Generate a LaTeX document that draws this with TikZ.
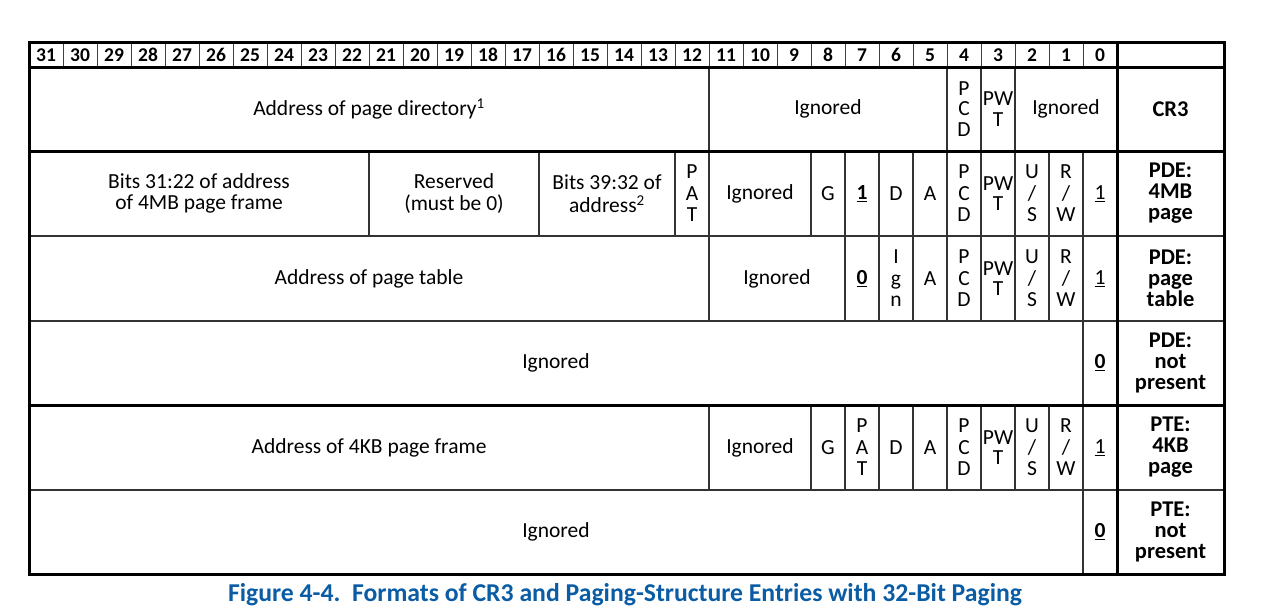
\documentclass[tikz,border=0pt]{standalone}
\usepackage{fontspec}
\setmainfont{Carlito}
\definecolor{capblue}{RGB}{10,92,164}
\begin{document}
\begin{tikzpicture}[x=1pt,y=-1pt,
  thickrule/.style={line width=3pt,black},
  thinrule/.style={line width=1.1pt,black!80},
  hdrrule/.style={line width=0.9pt,black!75},
  cell/.style={inner sep=0pt,align=center,font=\fontsize{21.5}{21.5}\selectfont},
  hdr/.style={inner sep=0pt,font=\fontsize{19.5}{19.5}\selectfont\bfseries},
  lab/.style={inner sep=0pt,align=center,font=\fontsize{22.5}{21}\selectfont\bfseries},
  captxt/.style={inner sep=0pt,font=\fontsize{25.7}{25.7}\selectfont\bfseries,text=capblue}]
\useasboundingbox (0,0) rectangle (1278,613);
\newcommand\fld[6]{%
  \pgfmathsetmacro\xa{29+(31-#2)*34}%
  \pgfmathsetmacro\xb{29+(32-#3)*34}%
  \pgfmathsetmacro\xm{(\xa+\xb)/2}%
  \pgfmathsetmacro\ym{(#4+#5)/2}%
  \node[cell] (#1) at (\xm,\ym) {#6};%
  \ifnum#3>0 \draw[thinrule] (\xb,#4) -- (\xb,#5);\fi
}
% header digits
\foreach \b in {0,...,31}{
  \pgfmathsetmacro\xa{29+(31-\b)*34}
  \node[hdr] (h\b) at ({\xa+17},55) {\b};
  \ifnum\b>0 \pgfmathsetmacro\xb{29+(32-\b)*34}\draw[hdrrule] (\xb,42) -- (\xb,67);\fi
}
% CR3
\fld{cra}{31}{12}{67}{151}{Address of page directory\textsuperscript{1}}
\fld{crb}{11}{5}{67}{151}{Ignored}
\fld{crc}{4}{4}{67}{151}{P\\[-1pt]C\\[-1pt]D}
\fld{crd}{3}{3}{67}{151}{PW\\[-1pt]T}
\fld{cre}{2}{0}{67}{151}{Ignored}
\node[lab] (lcr) at (1170.5,109) {CR3};
% PDE 4MB
\fld{pa}{31}{22}{151}{236}{Bits 31:22 of address\\of 4MB page frame}
\fld{pb}{21}{17}{151}{236}{Reserved\\(must be 0)}
\fld{pc}{16}{13}{151}{236}{Bits 39:32 of\\[2pt]address\textsuperscript{2}}
\fld{pd}{12}{12}{151}{236}{P\\A\\T}
\fld{pe}{11}{9}{151}{236}{Ignored}
\fld{pf}{8}{8}{151}{236}{G}
\fld{pg}{7}{7}{151}{236}{\underline{\textbf{1}}}
\fld{ph}{6}{6}{151}{236}{D}
\fld{pi}{5}{5}{151}{236}{A}
\fld{pj}{4}{4}{151}{236}{P\\C\\D}
\fld{pk}{3}{3}{151}{236}{PW\\[-1pt]T}
\fld{pl}{2}{2}{151}{236}{U\\/\\S}
\fld{pm}{1}{1}{151}{236}{R\\/\\W}
\fld{pn}{0}{0}{151}{236}{\underline{1}}
\node[lab] (lpa) at (1170.5,193.5) {PDE:\\4MB\\page};
% PDE page table
\fld{ta}{31}{12}{236}{321}{Address of page table}
\fld{tb}{11}{8}{236}{321}{Ignored}
\fld{tc}{7}{7}{236}{321}{\underline{\textbf{0}}}
\fld{td}{6}{6}{236}{321}{I\\g\\n}
\fld{te}{5}{5}{236}{321}{A}
\fld{tf}{4}{4}{236}{321}{P\\C\\D}
\fld{tg}{3}{3}{236}{321}{PW\\[-1pt]T}
\fld{th}{2}{2}{236}{321}{U\\/\\S}
\fld{ti}{1}{1}{236}{321}{R\\/\\W}
\fld{tj}{0}{0}{236}{321}{\underline{1}}
\node[lab] (lta) at (1170.5,278.5) {PDE:\\page\\table};
% PDE not present
\fld{na}{31}{1}{321}{405}{Ignored}
\fld{nb}{0}{0}{321}{405}{\underline{\textbf{0}}}
\node[lab] (lna) at (1170.5,363) {PDE:\\not\\present};
% PTE 4KB
\fld{ka}{31}{12}{405}{490}{Address of 4KB page frame}
\fld{kb}{11}{9}{405}{490}{Ignored}
\fld{kc}{8}{8}{405}{490}{G}
\fld{kd}{7}{7}{405}{490}{P\\A\\T}
\fld{ke}{6}{6}{405}{490}{D}
\fld{kf}{5}{5}{405}{490}{A}
\fld{kg}{4}{4}{405}{490}{P\\C\\D}
\fld{kh}{3}{3}{405}{490}{PW\\[-1pt]T}
\fld{ki}{2}{2}{405}{490}{U\\/\\S}
\fld{kj}{1}{1}{405}{490}{R\\/\\W}
\fld{kk}{0}{0}{405}{490}{\underline{1}}
\node[lab] (lka) at (1170.5,447.5) {PTE:\\4KB\\page};
% PTE not present
\fld{ma}{31}{1}{490}{574}{Ignored}
\fld{mb}{0}{0}{490}{574}{\underline{\textbf{0}}}
\node[lab] (lma) at (1170.5,532) {PTE:\\not\\present};
% rules
\draw[thinrule] (29,236) -- (1224,236) (29,321) -- (1224,321) (29,490) -- (1224,490);
\draw[thickrule] (29,67) -- (1224,67) (29,151) -- (1224,151) (29,405) -- (1224,405);
\draw[thickrule] (1117,42) -- (1117,574);
\draw[thickrule] (29,42) rectangle (1224,574);
% caption
\node[captxt] (cap) at (625,595) {Figure 4-4.\ \ Formats of CR3 and Paging-Structure Entries with 32-Bit Paging};
\end{tikzpicture}
\end{document}
